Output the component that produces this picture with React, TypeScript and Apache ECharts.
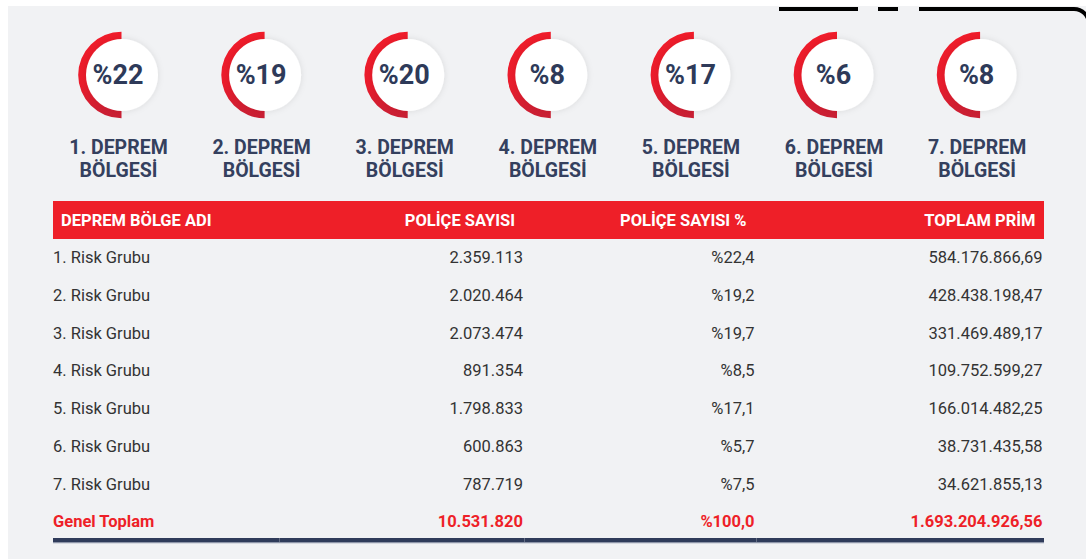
import React, { useEffect, useRef } from "react";
import * as echarts from "echarts";

// ---- data ----
const zonePercents = [22, 19, 20, 8, 17, 6, 8];
const zoneLabels = ["1. DEPREM", "2. DEPREM", "3. DEPREM", "4. DEPREM", "5. DEPREM", "6. DEPREM", "7. DEPREM"];
const zoneLabelLine2 = "BÖLGESİ";

const headers = ["DEPREM BÖLGE ADI", "POLİÇE SAYISI", "POLİÇE SAYISI %", "TOPLAM PRİM"];
const riskGroups = ["1. Risk Grubu", "2. Risk Grubu", "3. Risk Grubu", "4. Risk Grubu", "5. Risk Grubu", "6. Risk Grubu", "7. Risk Grubu"];
const policyCounts = [2359113, 2020464, 2073474, 891354, 1798833, 600863, 787719];
const policyPercents = [22.4, 19.2, 19.7, 8.5, 17.1, 5.7, 7.5];
const totalPremiums = [584176866.69, 428438198.47, 331469489.17, 109752599.27, 166014482.25, 38731435.58, 34621855.13];
const totalLabel = "Genel Toplam";
const totalCount = 10531820;
const totalPercent = 100.0;
const totalPremium = 1693204926.56;

function fmt(n: number, decimals: number): string {
  const fixed = n.toFixed(decimals);
  const [intPart, dec] = fixed.split(".");
  const withDots = intPart.replace(/\B(?=(\d{3})+(?!\d))/g, ".");
  return dec !== undefined ? withDots + "," + dec : withDots;
}

const RED = "#ee1f28";
const NAVY = "#2f3b5a";
const FONT = "Roboto, 'Noto Sans', sans-serif";

export default function App() {
  const ref = useRef<HTMLDivElement>(null);

  useEffect(() => {
    if (!ref.current) return;
    const chart = echarts.init(ref.current, undefined, { renderer: "svg" });
    const els: any[] = [];

    // background panel
    els.push({ type: "rect", shape: { x: 8, y: 6, width: 1078, height: 553 }, style: { fill: "#f1f2f4" }, z: 0 });

    // top-right decorative black line
    const lineStyle = { stroke: "#000", lineWidth: 4, fill: null };
    els.push({ type: "line", shape: { x1: 779, y1: 9, x2: 858, y2: 9 }, style: lineStyle, z: 5 });
    els.push({ type: "line", shape: { x1: 878, y1: 9, x2: 898, y2: 9 }, style: lineStyle, z: 5 });
    els.push({ type: "line", shape: { x1: 919, y1: 9, x2: 1074, y2: 9 }, style: lineStyle, z: 5 });
    els.push({
      type: "arc",
      shape: { cx: 1074, cy: 24, r: 15, startAngle: -Math.PI / 2, endAngle: 0, clockwise: true },
      style: lineStyle,
      z: 5,
    });

    // gauges
    zonePercents.forEach((p, i) => {
      const cx = 121.5 + 143.1 * i;
      const cy = 75;
      els.push({
        type: "sector",
        shape: { cx, cy, r0: 30, r: 43.3, startAngle: Math.PI / 2, endAngle: Math.PI * 1.5, clockwise: true },
        style: {
          fill: new echarts.graphic.LinearGradient(0, 0, 0, 1, [
            { offset: 0, color: "#f01c2a" },
            { offset: 0.6, color: "#ea1c2c" },
            { offset: 1, color: "#c71f34" },
          ]),
        },
        z: 2,
      });
      els.push({
        type: "circle",
        shape: { cx: cx + 0.5, cy, r: 36 },
        style: { fill: "#ffffff", shadowBlur: 6, shadowColor: "rgba(0,0,0,0.10)" },
        z: 3,
      });
      els.push({
        type: "text",
        x: cx - 3.5,
        y: cy,
        style: {
          text: "%" + p,
          fontFamily: FONT,
          fontWeight: "bold",
          fontSize: 27,
          fill: "#2e3a59",
          align: "center",
          verticalAlign: "middle",
        },
        z: 4,
      });
      els.push({
        type: "text",
        x: cx - 3,
        y: 147,
        style: { text: zoneLabels[i], fontFamily: FONT, fontWeight: "bold", fontSize: 19.5, fill: "#34405e", align: "center", verticalAlign: "middle" },
        z: 4,
      });
      els.push({
        type: "text",
        x: cx - 3,
        y: 170,
        style: { text: zoneLabelLine2, fontFamily: FONT, fontWeight: "bold", fontSize: 19.5, fill: "#34405e", align: "center", verticalAlign: "middle" },
        z: 4,
      });
    });

    // table header
    const tableLeft = 53;
    const tableRight = 1044;
    els.push({ type: "rect", shape: { x: tableLeft, y: 201, width: tableRight - tableLeft, height: 38 }, style: { fill: RED }, z: 2 });
    const headerX = [61, 515, 746.5, 1035.5];
    const headerAlign = ["left", "right", "right", "right"];
    headers.forEach((h, j) => {
      els.push({
        type: "text",
        x: headerX[j],
        y: 220,
        style: { text: h, fontFamily: FONT, fontWeight: "bold", fontSize: 16.5, fill: "#ffffff", align: headerAlign[j], verticalAlign: "middle" },
        z: 4,
      });
    });

    // rows
    const colX = [53, 523, 754.5, 1042.5];
    const rowY = (k: number) => 257.5 + 37.75 * k;
    riskGroups.forEach((g, k) => {
      const y = rowY(k);
      const cells = [g, fmt(policyCounts[k], 0), "%" + fmt(policyPercents[k], 1), fmt(totalPremiums[k], 2)];
      cells.forEach((c, j) => {
        els.push({
          type: "text",
          x: colX[j],
          y,
          style: { text: c, fontFamily: FONT, fontSize: 16.5, fill: "#333333", align: j === 0 ? "left" : "right", verticalAlign: "middle" },
          z: 4,
        });
      });
    });

    // total row
    const totalCells = [totalLabel, fmt(totalCount, 0), "%" + fmt(totalPercent, 1), fmt(totalPremium, 2)];
    totalCells.forEach((c, j) => {
      els.push({
        type: "text",
        x: colX[j],
        y: 521,
        style: { text: c, fontFamily: FONT, fontWeight: "bold", fontSize: 16.5, fill: RED, align: j === 0 ? "left" : "right", verticalAlign: "middle" },
        z: 4,
      });
    });

    // bottom bar
    els.push({ type: "rect", shape: { x: tableLeft, y: 538, width: tableRight - tableLeft, height: 4 }, style: { fill: NAVY }, z: 2 });
    els.push({ type: "rect", shape: { x: tableLeft, y: 542, width: tableRight - tableLeft, height: 1.3 }, style: { fill: "#8d95a8" }, z: 2 });
    [279.5, 524.5, 756.5].forEach((sx) => {
      els.push({ type: "line", shape: { x1: sx, y1: 538, x2: sx, y2: 542 }, style: { stroke: "rgba(255,255,255,0.25)", lineWidth: 1 }, z: 3 });
    });

    chart.setOption({
      animation: false,
      backgroundColor: "#ffffff",
      graphic: { elements: els },
    });

    return () => chart.dispose();
  }, []);

  return <div ref={ref} style={{ position: "fixed", left: 0, top: 0, width: 1086, height: 559 }} />;
}
